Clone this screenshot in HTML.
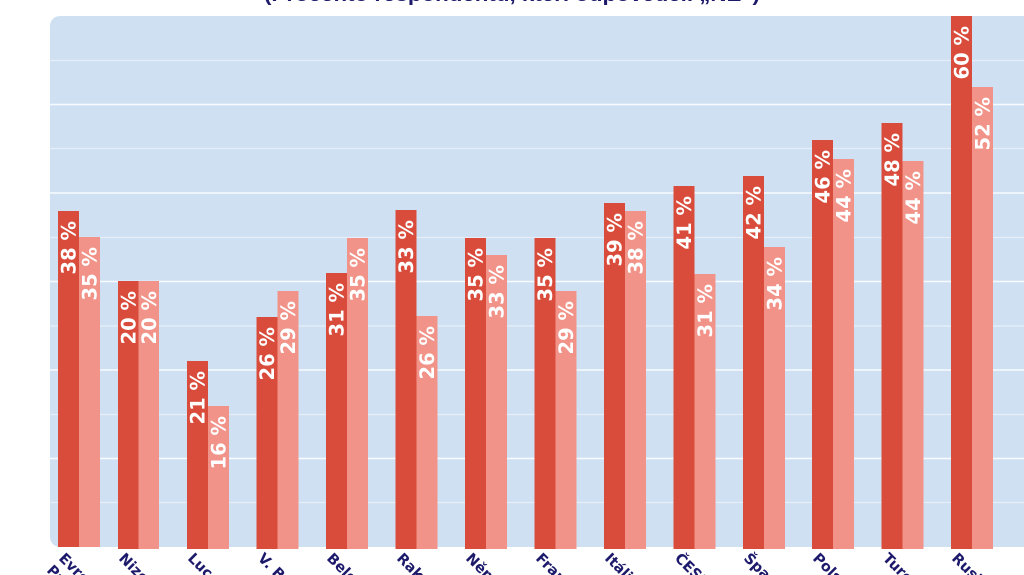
<!DOCTYPE html>
<html>
<head>
<meta charset="utf-8">
<style>
html,body{margin:0;padding:0;background:#ffffff;}
body{width:1024px;height:575px;overflow:hidden;}
svg{display:block;overflow:hidden;}
</style>
</head>
<body>
<svg width="1024" height="575" viewBox="0 0 1024 575" xmlns="http://www.w3.org/2000/svg">
  <defs>
    <clipPath id="frame"><rect x="0" y="0" width="1024" height="575"/></clipPath>
  </defs>
  <!-- title (cut off at top) -->
  <text x="512" y="1" text-anchor="middle" font-family="'Liberation Sans', sans-serif" font-weight="bold" font-size="20" fill="#1d1a6b" textLength="496" lengthAdjust="spacingAndGlyphs">(Procento respondentů, kteří odpověděli „NE“)</text>

  <!-- panel -->
  <rect x="50" y="16" width="1010" height="531" rx="10" ry="10" fill="#cfe0f2"/>

  <!-- gridlines -->
  <g stroke="#e6eff9" stroke-width="1.2">
    <line x1="50" x2="1024" y1="60.5" y2="60.5"/>
    <line x1="50" x2="1024" y1="148.5" y2="148.5"/>
    <line x1="50" x2="1024" y1="237.5" y2="237.5"/>
    <line x1="50" x2="1024" y1="326" y2="326"/>
    <line x1="50" x2="1024" y1="414.5" y2="414.5"/>
    <line x1="50" x2="1024" y1="502.5" y2="502.5"/>
  </g>
  <g stroke="#f7fbff" stroke-width="1.6">
    <line x1="50" x2="1024" y1="104.5" y2="104.5"/>
    <line x1="50" x2="1024" y1="193" y2="193"/>
    <line x1="50" x2="1024" y1="281.5" y2="281.5"/>
    <line x1="50" x2="1024" y1="370" y2="370"/>
    <line x1="50" x2="1024" y1="458.5" y2="458.5"/>
  </g>

  <!-- bars -->
  <g>
    <rect x="58" y="211" width="21" height="336" fill="#d94c3b"/>
    <rect x="79" y="237" width="21" height="310" fill="#f19388"/>

    <rect x="118" y="281" width="20.5" height="268" fill="#d94c3b"/>
    <rect x="138.5" y="281" width="20.5" height="268" fill="#f19388"/>

    <rect x="187" y="361" width="21" height="188" fill="#d94c3b"/>
    <rect x="208" y="406" width="21" height="143" fill="#f19388"/>

    <rect x="256.5" y="317" width="21" height="232" fill="#d94c3b"/>
    <rect x="277.5" y="291" width="21" height="258" fill="#f19388"/>

    <rect x="326" y="273" width="21" height="276" fill="#d94c3b"/>
    <rect x="347" y="238" width="21" height="311" fill="#f19388"/>

    <rect x="395.5" y="210" width="21" height="339" fill="#d94c3b"/>
    <rect x="416.5" y="316" width="21" height="233" fill="#f19388"/>

    <rect x="465" y="238" width="21" height="311" fill="#d94c3b"/>
    <rect x="486" y="255" width="21" height="294" fill="#f19388"/>

    <rect x="534.5" y="238" width="21" height="311" fill="#d94c3b"/>
    <rect x="555.5" y="291" width="21" height="258" fill="#f19388"/>

    <rect x="604" y="203" width="21" height="346" fill="#d94c3b"/>
    <rect x="625" y="211" width="21" height="338" fill="#f19388"/>

    <rect x="673.5" y="186" width="21" height="363" fill="#d94c3b"/>
    <rect x="694.5" y="274" width="21" height="275" fill="#f19388"/>

    <rect x="743" y="176" width="21" height="373" fill="#d94c3b"/>
    <rect x="764" y="247" width="21" height="302" fill="#f19388"/>

    <rect x="812" y="140" width="21" height="409" fill="#d94c3b"/>
    <rect x="833" y="159" width="21" height="390" fill="#f19388"/>

    <rect x="881.5" y="123" width="21" height="426" fill="#d94c3b"/>
    <rect x="902.5" y="161" width="21" height="388" fill="#f19388"/>

    <rect x="951" y="16" width="21" height="533" fill="#d94c3b"/>
    <rect x="972" y="87" width="21" height="462" fill="#f19388"/>
  </g>

  <!-- value labels -->
  <g font-family="'DejaVu Sans', sans-serif" font-weight="bold" font-size="19.5" fill="#ffffff" text-anchor="end">
    <text transform="translate(75.5,221) rotate(-90)">38 %</text>
    <text transform="translate(96.5,247) rotate(-90)">35 %</text>

    <text transform="translate(135.5,291) rotate(-90)">20 %</text>
    <text transform="translate(156,291) rotate(-90)">20 %</text>

    <text transform="translate(204.5,371) rotate(-90)">21 %</text>
    <text transform="translate(225.5,416) rotate(-90)">16 %</text>

    <text transform="translate(274,327) rotate(-90)">26 %</text>
    <text transform="translate(295,301) rotate(-90)">29 %</text>

    <text transform="translate(343.5,283) rotate(-90)">31 %</text>
    <text transform="translate(364.5,248) rotate(-90)">35 %</text>

    <text transform="translate(413,220) rotate(-90)">33 %</text>
    <text transform="translate(434,326) rotate(-90)">26 %</text>

    <text transform="translate(482.5,248) rotate(-90)">35 %</text>
    <text transform="translate(503.5,265) rotate(-90)">33 %</text>

    <text transform="translate(552,248) rotate(-90)">35 %</text>
    <text transform="translate(573,301) rotate(-90)">29 %</text>

    <text transform="translate(621.5,213) rotate(-90)">39 %</text>
    <text transform="translate(642.5,221) rotate(-90)">38 %</text>

    <text transform="translate(691,196) rotate(-90)">41 %</text>
    <text transform="translate(712,284) rotate(-90)">31 %</text>

    <text transform="translate(760.5,186) rotate(-90)">42 %</text>
    <text transform="translate(781.5,257) rotate(-90)">34 %</text>

    <text transform="translate(829.5,150) rotate(-90)">46 %</text>
    <text transform="translate(850.5,169) rotate(-90)">44 %</text>

    <text transform="translate(899,133) rotate(-90)">48 %</text>
    <text transform="translate(920,171) rotate(-90)">44 %</text>

    <text transform="translate(968.5,26) rotate(-90)">60 %</text>
    <text transform="translate(989.5,97) rotate(-90)">52 %</text>
  </g>

  <!-- category labels -->
  <g clip-path="url(#frame)" font-family="'DejaVu Sans', sans-serif" font-weight="bold" font-size="14.5" fill="#1d1a6b">
    <text transform="translate(58,559) rotate(45)">Evropa</text>
    <text transform="translate(46,571) rotate(45)">Průměr</text>
    <text transform="translate(118,559) rotate(45)">Nizozemsko</text>
    <text transform="translate(187,559) rotate(45)">Lucembursko</text>
    <text transform="translate(257,559) rotate(45)">V. Británie</text>
    <text transform="translate(326,559) rotate(45)">Belgie</text>
    <text transform="translate(396,559) rotate(45)">Rakousko</text>
    <text transform="translate(465,559) rotate(45)">Německo</text>
    <text transform="translate(535,559) rotate(45)">Francie</text>
    <text transform="translate(604,559) rotate(45)">Itálie</text>
    <text transform="translate(674,559) rotate(45)">ČESKO</text>
    <text transform="translate(743,559) rotate(45)">Španělsko</text>
    <text transform="translate(812,559) rotate(45)">Polsko</text>
    <text transform="translate(882,559) rotate(45)">Turecko</text>
    <text transform="translate(951,559) rotate(45)">Rusko</text>
  </g>
</svg>
</body>
</html>
